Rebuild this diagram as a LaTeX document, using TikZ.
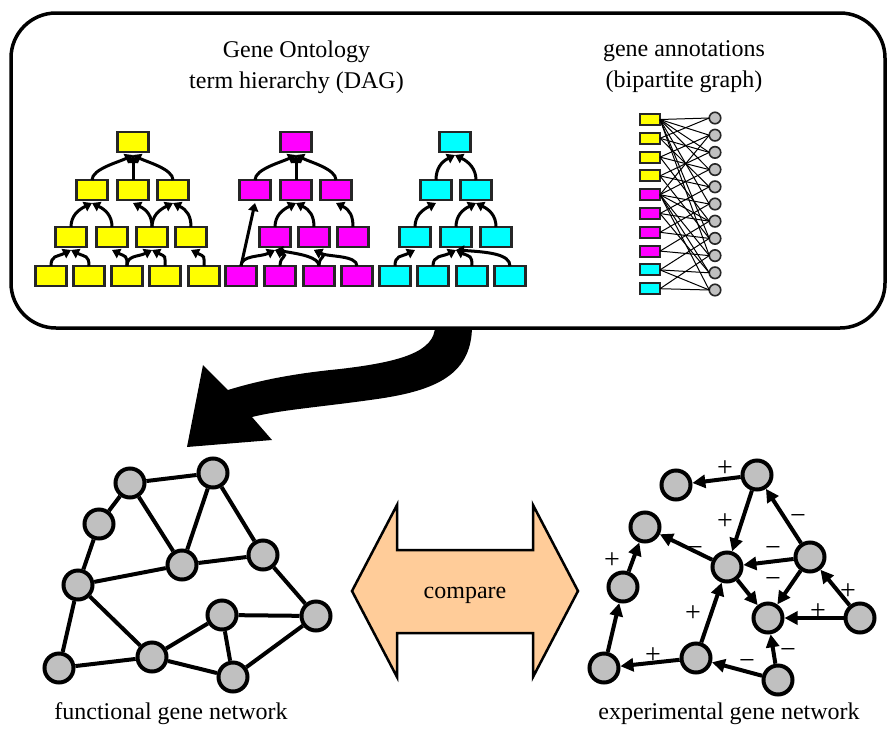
\documentclass[tikz,border=0pt]{standalone}
\usepackage{fontspec}
\setmainfont{Liberation Serif}
\usetikzlibrary{arrows.meta}
\definecolor{goY}{HTML}{FFFF00}
\definecolor{goM}{HTML}{FF00FF}
\definecolor{goC}{HTML}{00FFFF}
\definecolor{peach}{HTML}{FFCC99}
\definecolor{ngray}{HTML}{C0C0C0}
\newcommand\dagL[2]{\draw[dagarrow] (#1.north) .. controls +(0,-11) and +(-14,7) .. ([yshift=-3pt]#2.south);}
\newcommand\dagR[2]{\draw[dagarrow] (#1.north) .. controls +(0,-11) and +(14,7) .. ([yshift=-3pt]#2.south);}
\newcommand\dagS[2]{\draw[dagarrow] (#1.north) -- ([yshift=-3pt]#2.south);}
\begin{document}
\begin{tikzpicture}[x=1pt,y=-1pt,
  txt/.style={font=\fontsize{24}{31}\selectfont, inner sep=0pt, anchor=base},
  sign/.style={font=\fontsize{28}{32}\selectfont, inner sep=0pt},
  gobox/.style={draw=black!85, line width=2.2pt, minimum width=31pt, minimum height=20pt, inner sep=0pt, outer sep=0pt},
  dagarrow/.style={line width=3pt, -{Triangle[length=8pt,width=10pt]}},
  abox/.style={draw=black!85, line width=2pt, minimum width=20pt, minimum height=11pt, inner sep=0pt, outer sep=0pt},
  agene/.style={circle, draw=black!85, fill=ngray, line width=1.6pt, minimum size=11.5pt, inner sep=0pt, outer sep=0pt},
  bip/.style={line width=1pt},
  gnode/.style={circle, draw=black, fill=ngray, line width=4pt, minimum size=29pt, inner sep=0pt},
  fedge/.style={line width=4pt},
  xedge/.style={line width=4pt, -{Triangle[length=13pt,width=13pt]}},
]
\useasboundingbox (0,0) rectangle (887,729);

% big black arrow
\fill[black] (472,326) .. controls (472,378) and (430,392) .. (370,400)
  .. controls (320,407) and (280,410) .. (252,417)
  -- (272,440) -- (187,447) -- (203,365) -- (228,390)
  .. controls (270,377) and (310,372) .. (340,369)
  .. controls (400,362) and (435,352) .. (435,326) -- cycle;

% top panel
\node[draw=black, line width=3.5pt, rounded corners=45pt, minimum width=874pt, minimum height=315pt, inner sep=0pt, fill=white] (panel) at (448,170.5) {};

\node[txt] (go1) at (296.5,57) {Gene Ontology};
\node[txt] (go2) at (296.5,88) {term hierarchy (DAG)};
\node[txt] (ga1) at (684,56) {gene annotations};
\node[txt] (ga2) at (684,87) {(bipartite graph)};

% yellow tree
\foreach \n/\x/\y in {yT/133/142, y2a/92/190, y2b/133/190, y2c/173/190,
  y3a/71/237, y3b/112/237, y3c/152/237, y3d/191/237,
  y4a/51/276, y4b/89/276, y4c/127/276, y4d/165/276, y4e/204/276}
  \node[gobox, fill=goY] (\n) at (\x,\y) {};
\dagL{y2a}{yT} \dagS{y2b}{yT} \dagR{y2c}{yT}
\dagL{y3a}{y2a} \dagR{y3b}{y2a} \dagR{y3c}{y2b} \dagL{y3c}{y2c} \dagR{y3d}{y2c}
\dagL{y4a}{y3a} \dagR{y4b}{y3a} \dagR{y4c}{y3b} \dagL{y4c}{y3c} \dagR{y4d}{y3c} \dagR{y4e}{y3d}

% magenta tree
\foreach \n/\x/\y in {mT/296/142, m2a/255/190, m2b/296/190, m2c/336/190,
  m3a/275/237, m3b/314/237, m3c/353/237,
  m4a/241/276, m4b/280/276, m4c/319/276, m4d/357/276}
  \node[gobox, fill=goM] (\n) at (\x,\y) {};
\dagL{m2a}{mT} \dagS{m2b}{mT} \dagR{m2c}{mT}
\draw[dagarrow] (m4a.north) -- ([yshift=-3pt]m2a.south);
\dagL{m3a}{m2b} \dagR{m3b}{m2b} \dagR{m3c}{m2c}
\dagL{m4a}{m3a} \dagR{m4b}{m3a}
\draw[dagarrow] (m4c.north) .. controls +(0,-9) and +(25,4) .. ([yshift=-3pt]m3a.south);
\dagR{m4c}{m3b} \dagR{m4d}{m3b}

% cyan tree
\foreach \n/\x/\y in {cT/455/142, c2a/436/190, c2b/476/190,
  c3a/415/237, c3b/456/237, c3c/496/237,
  c4a/395/276, c4b/433/276, c4c/472/276, c4d/510/276}
  \node[gobox, fill=goC] (\n) at (\x,\y) {};
\dagL{c2a}{cT} \dagR{c2b}{cT}
\dagL{c3a}{c2a} \dagL{c3b}{c2b} \dagR{c3c}{c2b}
\dagL{c4a}{c3a} \dagL{c4b}{c3b} \dagR{c4c}{c3b}
\draw[dagarrow] (c4d.north) .. controls +(0,-12) and +(32,2) .. ([yshift=-3pt]c3b.south);

% bipartite graph
\foreach \i/\c in {1/goY,2/goY,3/goY,4/goY,5/goM,6/goM,7/goM,8/goM,9/goC,10/goC}
  \node[abox, fill=\c] (b\i) at (650,{119.5+(\i-1)*18.8}) {};
\foreach \j in {1,...,11}
  \node[agene] (g\j) at (715,{118+(\j-1)*17.2}) {};
\foreach \b/\g in {1/1,1/2,1/3,1/4,1/6,1/8,1/9,
  2/1,2/3,2/5, 3/2,3/4,3/7, 4/3,4/5,4/8,
  5/2,5/4,5/6,5/7,5/9,5/10,5/11, 6/5,6/7,6/10,
  7/6,7/8, 8/7,8/9, 9/8,9/10,9/11, 10/9,10/11}
  \draw[bip] (b\b.east) -- (g\g.west);

% compare arrow
\filldraw[fill=peach, draw=black, line width=2.5pt, line join=miter]
  (352,591) -- (397,505) -- (397,550) -- (533,550) -- (533,505) -- (578,591)
  -- (533,677) -- (533,633) -- (397,633) -- (397,677) -- cycle;
\node[txt] (cmp) at (465,598) {compare};

% functional network
\foreach \n/\x/\y in {fA/130/483, fB/213/473, fC/99/524, fD/182/565, fE/263/555,
  fF/78/585, fG/222/615, fH/316/616, fI/59/668, fJ/152/657, fK/233/677}
  \node[gnode] (\n) at (\x,\y) {};
\foreach \u/\v in {fA/fB, fA/fC, fA/fD, fB/fD, fB/fE, fD/fE, fC/fF, fF/fD, fF/fI,
  fF/fJ, fE/fH, fG/fH, fG/fJ, fG/fK, fJ/fI, fJ/fK, fK/fH}
  \draw[fedge] (\u) -- (\v);
\node[txt] (flab) at (171,719) {functional gene network};

% experimental network
\foreach \n/\x/\y in {xa/757/475, xb/676/485, xc/645/527, xd/727/567, xe/810/557,
  xf/623/587, xg/768/618, xh/860/618, xi/604/668, xj/696/658, xk/778/680}
  \node[gnode] (\n) at (\x,\y) {};
\foreach \u/\v in {xa/xb, xa/xd, xe/xa, xe/xd, xd/xc, xd/xg, xe/xg, xh/xe, xh/xg,
  xf/xc, xi/xf, xj/xi, xj/xd, xk/xj, xk/xg}
  \draw[xedge] (\u) -- (\v);
\node[sign] (s1) at (725,469) {+};
\node[sign] (s2) at (798,519) {−};
\node[sign] (s3) at (725,522) {+};
\node[sign] (s4) at (695,551) {−};
\node[sign] (s5) at (773,551) {−};
\node[sign] (s6) at (612,561) {+};
\node[sign] (s7) at (773,582) {−};
\node[sign] (s8) at (848,592) {+};
\node[sign] (s9) at (818,612) {+};
\node[sign] (s10) at (693,614) {+};
\node[sign] (s11) at (653,656) {+};
\node[sign] (s12) at (788,653) {−};
\node[sign] (s13) at (747,664) {−};
\node[txt] (xlab) at (729,719) {experimental gene network};
\end{tikzpicture}
\end{document}
